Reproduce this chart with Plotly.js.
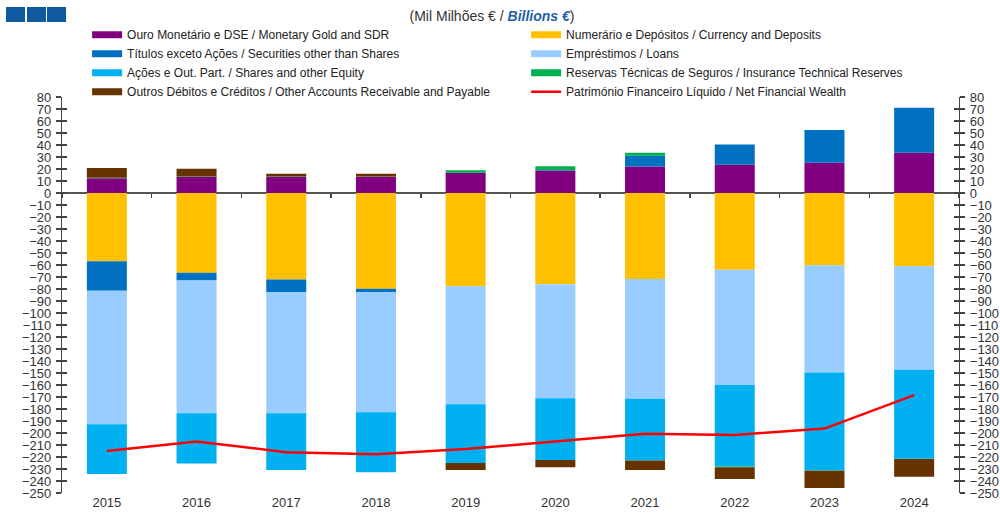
<!DOCTYPE html>
<html>
<head>
<meta charset="utf-8">
<script src="https://cdn.plot.ly/plotly-3.0.1.min.js"></script>
<style>html,body{margin:0;padding:0;background:#fff;}#chart{width:1000px;height:515px;}</style>
</head>
<body>
<div id="chart"></div>
<script>
const years = ['2015','2016','2017','2018','2019','2020','2021','2022','2023','2024'];
const gold       = [12.2, 13.3, 13.3, 13.5, 16.8, 18.8, 22.1, 23.5, 25.2, 33.5];
const currency   = [-56.9, -66.4, -72.0, -79.7, -77.8, -76.1, -71.6, -63.9, -60.3, -61.1];
const securities = [-24.5, -6.6, -10.5, -2.8, 0, 0.3, 8.9, 17.0, 27.2, 37.6];
const loans      = [-111.3, -110.5, -101.0, -100.2, -98.2, -94.9, -99.9, -96.2, -89.3, -86.2];
const shares     = [-41.4, -42.0, -47.3, -50.0, -49.0, -51.5, -51.5, -67.9, -81.4, -74.1];
const insurance  = [0.6, 0.5, 0.4, 0.3, 2.2, 3.2, 2.5, -0.5, -0.5, -0.3];
const otherAcc   = [8.0, 6.4, 2.4, 2.3, -5.8, -6.1, -7.8, -9.8, -14.3, -14.7];
const netWealth  = [-215.0, -207.0, -216.0, -217.7, -213.3, -207.0, -200.7, -201.6, -196.3, -168.4];

const names = [
  'Ouro Monetário e DSE / Monetary Gold and SDR',
  'Numerário e Depósitos / Currency and Deposits',
  'Títulos exceto Ações / Securities other than Shares',
  'Empréstimos / Loans',
  'Ações e Out. Part. / Shares and other Equity',
  'Reservas Técnicas de Seguros / Insurance Technical Reserves',
  'Outros Débitos e Créditos / Other Accounts Receivable and Payable',
  'Património Financeiro Líquido / Net Financial Wealth'
];
const colors = ['#800080','#FFC000','#0070C0','#99CCFF','#00B0F0','#00B050','#663300','#FF0000'];
const series = [gold, currency, securities, loans, shares, insurance, otherAcc];

const traces = [];
series.forEach((s, i) => {
  traces.push({
    type: 'bar', x: years, y: s, name: names[i], width: 0.446,
    marker: {color: colors[i], line: {width: 0}},
    showlegend: false, legendgroup: 'g' + i, hoverinfo: 'y+name'
  });
});
traces.push({
  type: 'scatter', mode: 'lines', x: years, y: netWealth, name: names[7],
  line: {color: colors[7], width: 2.5}, showlegend: false, legendgroup: 'g7'
});
// legend entries (wide swatches); also anchor the overlay axes so they are drawn
const legendAxes = [['x2','y2'],['x','y3'],['x','y4'],['x','y'],['x','y'],['x','y'],['x','y'],['x','y']];
names.forEach((n, i) => {
  traces.push({
    type: 'scatter', mode: 'lines', x: [null], y: [null], name: n,
    xaxis: legendAxes[i][0], yaxis: legendAxes[i][1],
    line: {color: colors[i], width: i === 7 ? 2.5 : 7},
    legendgroup: 'g' + i, showlegend: true, hoverinfo: 'skip'
  });
});

const tickFont = {family: 'Liberation Sans, Arial, sans-serif', size: 13, color: '#333'};
const yr = [-250, 80];
const zeroFrac = (0 - yr[0]) / (yr[1] - yr[0]);
const logo = '#0F5A9E';

const layout = {
  width: 1000, height: 515,
  margin: {l: 62, r: 41, t: 97, b: 22, autoexpand: false},
  paper_bgcolor: '#fff', plot_bgcolor: '#fff',
  barmode: 'relative',
  font: {family: 'Liberation Sans, Arial, sans-serif', size: 12, color: '#333'},
  title: {
    text: '(Mil Milhões € / <b><i><span style="color:#1F5FAA">Billions €</span></i></b>)',
    x: 0.492, xanchor: 'center', y: 0.968, yanchor: 'middle',
    font: {family: 'Liberation Sans, Arial, sans-serif', size: 14, color: '#333'}
  },
  showlegend: true,
  legend: {
    orientation: 'h', x: 0.028, xanchor: 'left', y: 0.9766, yanchor: 'bottom',
    entrywidth: 394, entrywidthmode: 'pixels', itemwidth: 30,
    font: {family: 'Liberation Sans, Arial, sans-serif', size: 12, color: '#222'},
    bgcolor: 'rgba(0,0,0,0)', traceorder: 'normal', tracegroupgap: 0
  },
  xaxis: {
    type: 'category', range: [-0.5, 9.5], showline: false, ticks: '',
    showgrid: false, zeroline: false, tickfont: tickFont, fixedrange: true
  },
  xaxis2: {
    overlaying: 'x', anchor: 'free', position: zeroFrac, type: 'linear',
    range: [-0.5, 9.5], tick0: 0.5, dtick: 1, ticks: 'outside', ticklen: 4,
    tickcolor: '#444', tickwidth: 1.5, showticklabels: false, showline: false,
    showgrid: false, zeroline: false
  },
  yaxis: {
    range: yr, dtick: 10, ticks: 'outside', ticklen: 5, tickcolor: '#444', tickwidth: 1.2,
    showline: true, linecolor: '#444', linewidth: 1.2, showgrid: false,
    zeroline: true, zerolinecolor: '#555', zerolinewidth: 2,
    tickfont: tickFont, ticklabelstandoff: 2
  },
  yaxis2: {
    overlaying: 'y', side: 'right', anchor: 'x', range: yr, dtick: 10, ticks: 'outside', ticklen: 5,
    tickcolor: '#444', tickwidth: 1.2, showline: true, linecolor: '#444', linewidth: 1.2,
    showgrid: false, zeroline: false, tickfont: tickFont, ticklabelstandoff: 2
  },
  yaxis3: {
    overlaying: 'y', side: 'left', anchor: 'x', range: yr, dtick: 10, ticks: 'inside', ticklen: 5,
    tickcolor: '#444', tickwidth: 1.2, showticklabels: false, showline: false,
    showgrid: false, zeroline: false
  },
  yaxis4: {
    overlaying: 'y', side: 'right', anchor: 'x', range: yr, dtick: 10, ticks: 'inside', ticklen: 5,
    tickcolor: '#444', tickwidth: 1.2, showticklabels: false, showline: false,
    showgrid: false, zeroline: false
  },
  shapes: [
    {type: 'rect', xref: 'paper', yref: 'paper', x0: -0.0624, x1: -0.0412, y0: 1.1894, y1: 1.2273, fillcolor: logo, line: {width: 0}},
    {type: 'rect', xref: 'paper', yref: 'paper', x0: -0.0390, x1: -0.0178, y0: 1.1894, y1: 1.2273, fillcolor: logo, line: {width: 0}},
    {type: 'rect', xref: 'paper', yref: 'paper', x0: -0.0167, x1: 0.0045, y0: 1.1894, y1: 1.2273, fillcolor: logo, line: {width: 0}}
  ]
};

Plotly.newPlot('chart', traces, layout, {displayModeBar: false, staticPlot: true});
</script>
</body>
</html>
